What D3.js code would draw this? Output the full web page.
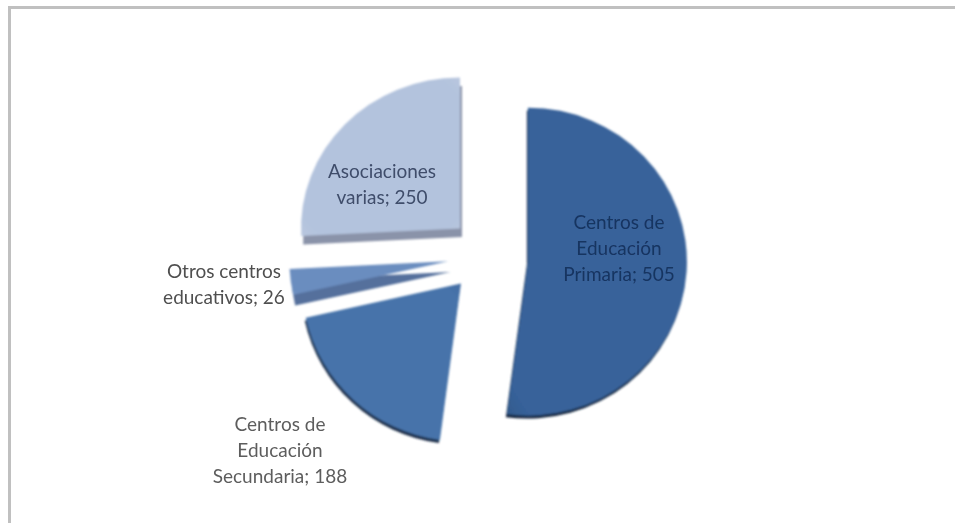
<!DOCTYPE html>
<html>
<head>
<meta charset="utf-8">
<script src="https://d3js.org/d3.v7.min.js"></script>
<style>
  html, body { margin: 0; padding: 0; background: #fff; }
  svg { display: block; }
  text { font-family: Lato, "Open Sans", sans-serif; font-size: 19px; text-anchor: middle; }
</style>
</head>
<body>
<svg id="pie_svg" width="955" height="523"></svg>
<script>
// data
var categories = ["Centros de Educación Primaria", "Centros de Educación Secundaria", "Otros centros educativos", "Asociaciones varias"];
var values = [505, 188, 26, 250];
var labelLines = [
  ["Centros de", "Educación", "Primaria; 505"],
  ["Centros de", "Educación", "Secundaria; 188"],
  ["Otros centros", "educativos; 26"],
  ["Asociaciones", "varias; 250"]
];

// styles for each slice, same order as categories
var faceColors = ["#37629a", "#4673aa", "#6a8dbf", "#b3c3dd"];
var edgeColors = ["#2f5686", "#4169a0", "#7d9cc8", "#bcc9e0"];
var wallColors = ["#16263f", "#1c2d49", "#54709c", "#8a93a9"];
var wallDrop = [3, 3, 11, 9];
var wallSide = [-1, -1, 2, 2];
var textColors = ["#173461", "#5d5d5d", "#4f4f4f", "#3f4d6b"];
// small nudges so each exploded slice lands where it does in the picture
var nudgeX = [1, 1, 1, 2];
var nudgeY = [1, -4, -2, -2];
var sliceRadiusY = [154, 158, 154, 151];
// label centres
var labelX = [619, 280, 224, 382];
var labelY = [229, 431, 278, 178];

const width = 955, height = 523;
const centerX = 487, centerY = 258;
const radiusX = 159;
const explode = 40;
const lineGap = 26;

const svg = d3.select("#pie_svg");
const defs = svg.append("defs");

const soft = defs.append("filter").attr("id", "soft");
soft.append("feGaussianBlur").attr("stdDeviation", 0.8);
const softText = defs.append("filter").attr("id", "softText");
softText.append("feGaussianBlur").attr("stdDeviation", 0.5);

// slight shade towards the rim of each face
faceColors.forEach(function (c, i) {
  const g = defs.append("radialGradient").attr("id", "face" + i)
    .attr("cx", "50%").attr("cy", "50%").attr("r", "75%");
  g.append("stop").attr("offset", "0%").attr("stop-color", c);
  g.append("stop").attr("offset", "82%").attr("stop-color", c);
  g.append("stop").attr("offset", "100%").attr("stop-color", edgeColors[i]);
});

svg.append("rect").attr("width", width).attr("height", height).attr("fill", "#fff");

// frame, only top and left show in the picture
svg.append("path")
  .attr("d", d3.line()([[9.5, height], [9.5, 7.5], [width, 7.5]]))
  .attr("fill", "none")
  .attr("stroke", "#c0c0c0")
  .attr("stroke-width", 3);

const pie = d3.pie().sort(null).value(d => d);
const arc = d3.arc().innerRadius(0).outerRadius(radiusX);
const slices = pie(values);

function sliceTransform(d, i) {
  const mid = (d.startAngle + d.endAngle) / 2;
  const x = centerX + explode * Math.sin(mid) + nudgeX[i];
  const y = centerY - explode * Math.cos(mid) + nudgeY[i];
  return `translate(${x},${y}) scale(1,${sliceRadiusY[i] / radiusX})`;
}

const chart = svg.append("g").attr("filter", "url(#soft)");

const groups = chart.selectAll("g")
  .data(slices)
  .join("g")
  .attr("transform", sliceTransform);

// side wall is a dark copy pushed down behind the face
groups.append("path")
  .attr("d", arc)
  .attr("fill", (d, i) => wallColors[i])
  .attr("transform", (d, i) => `translate(${wallSide[i]},${wallDrop[i]})`);

groups.append("path")
  .attr("d", arc)
  .attr("fill", (d, i) => `url(#face${i})`);

const labels = svg.append("g").attr("filter", "url(#softText)")
  .selectAll("text")
  .data(labelLines)
  .join("text")
  .attr("fill", (d, i) => textColors[i]);

labels.each(function (lines, i) {
  d3.select(this).selectAll("tspan")
    .data(lines)
    .join("tspan")
    .attr("x", labelX[i])
    .attr("y", (d, j) => labelY[i] + j * lineGap)
    .text(d => d);
});
</script>
</body>
</html>
